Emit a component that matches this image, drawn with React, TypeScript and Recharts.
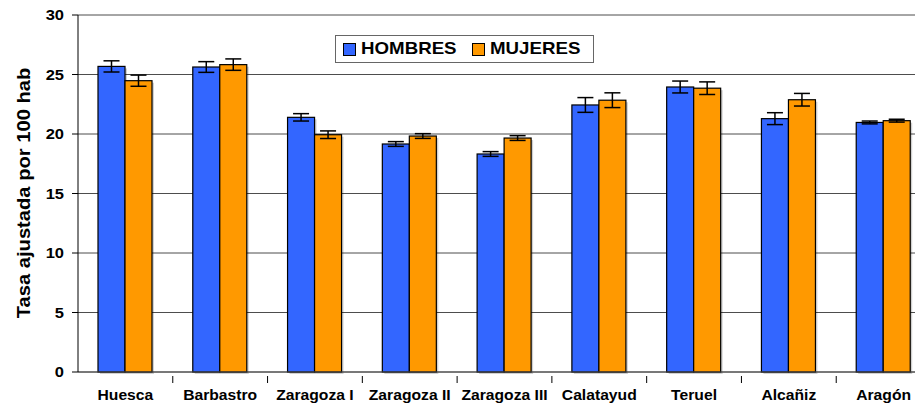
import { Bar, BarChart, CartesianGrid, ErrorBar, XAxis, YAxis } from "recharts";

const areas = ["Huesca", "Barbastro", "Zaragoza I", "Zaragoza II", "Zaragoza III", "Calatayud", "Teruel", "Alcañiz", "Aragón"];
const hombres = [25.68, 25.63, 21.4, 19.16, 18.32, 22.44, 23.95, 21.29, 20.97];
const hombresErr = [0.47, 0.45, 0.31, 0.2, 0.2, 0.62, 0.5, 0.5, 0.12];
const mujeres = [24.48, 25.83, 19.94, 19.83, 19.66, 22.84, 23.85, 22.88, 21.12];
const mujeresErr = [0.47, 0.48, 0.32, 0.2, 0.2, 0.62, 0.53, 0.53, 0.12];
const yTicks = [0, 5, 10, 15, 20, 25, 30];

const data = areas.map((name, i) => ({
  name,
  hombres: hombres[i],
  hombresErr: hombresErr[i],
  mujeres: mujeres[i],
  mujeresErr: mujeresErr[i],
}));

const BLUE = "#3366FF";
const ORANGE = "#FF9900";
const FONT = "'Liberation Sans', Arial, sans-serif";

const W = 935;
const H = 404;
const M = { top: 15, right: 4, left: 18, bottom: 0 };
const Y_W = 60;
const BAND = (W - M.left - M.right - Y_W) / areas.length;

function ShadowBar(props: any) {
  const { x, y, width, height, fill } = props;
  if (!height || height <= 0) return null;
  return (
    <g>
      <rect x={x + 2} y={y + 2} width={width} height={height} fill="#000" opacity={0.18} />
      <rect x={x} y={y} width={width} height={height} fill={fill} stroke="#000" strokeWidth={1.2} />
    </g>
  );
}

function XTick(props: any) {
  const { x, y, payload, index } = props;
  return (
    <g>
      {index > 0 && <line x1={x - BAND / 2} x2={x - BAND / 2} y1={y - 4} y2={y + 3} stroke="#000" />}
      <text
        transform={`translate(${x},${y + 20}) scale(1.12,1)`}
        textAnchor="middle"
        fontSize={14}
        fontWeight="bold"
        fontFamily={FONT}
        fill="#000"
      >
        {payload.value}
      </text>
    </g>
  );
}

function YTick(props: any) {
  const { x, y, payload } = props;
  return (
    <text
      transform={`translate(${x},${y + 5}) scale(1.1,1)`}
      textAnchor="end"
      fontSize={15}
      fontWeight="bold"
      fontFamily={FONT}
      fill="#000"
    >
      {payload.value}
    </text>
  );
}

function YTitle() {
  return (
    <text
      transform="translate(30,193) rotate(-90) scale(1.12,1)"
      textAnchor="middle"
      fontSize={18}
      fontWeight="bold"
      fontFamily={FONT}
      fill="#000"
    >
      Tasa ajustada por 100 hab
    </text>
  );
}

function LegendBox() {
  const item = (color: string, label: string, ml: number) => (
    <>
      <span
        style={{ width: 11, height: 11, background: color, border: "1px solid #000", marginLeft: ml, marginRight: 5, flex: "none" }}
      />
      <span style={{ display: "inline-block", transform: "scaleX(1.1)", transformOrigin: "left center", marginRight: 9 }}>
        {label}
      </span>
    </>
  );
  return (
    <div
      style={{
        position: "absolute",
        left: 335,
        top: 35,
        width: 257,
        height: 26,
        border: "1px solid #666",
        background: "#fff",
        display: "flex",
        alignItems: "center",
        fontFamily: FONT,
        fontWeight: "bold",
        fontSize: 17,
        color: "#000",
        boxSizing: "content-box",
        whiteSpace: "nowrap",
      }}
    >
      {item(BLUE, "HOMBRES", 7)}
      {item(ORANGE, "MUJERES", 15)}
    </div>
  );
}

export default function App() {
  return (
    <div style={{ position: "absolute", left: 0, top: 0, width: 915, height: 404, overflow: "hidden", background: "#fff" }}>
      <BarChart width={W} height={H} data={data} margin={M} barCategoryGap={20} barGap={0}>
        <CartesianGrid vertical={false} stroke="#4d4d4d" strokeWidth={1} />
        <XAxis dataKey="name" height={32} stroke="#4d4d4d" tickLine={false} tick={<XTick />} interval={0} />
        <YAxis
          domain={[0, 30]}
          ticks={yTicks}
          width={Y_W}
          stroke="#000"
          tickSize={6}
          tickMargin={8}
          tick={<YTick />}
          label={<YTitle />}
        />
        <Bar dataKey="hombres" name="HOMBRES" fill={BLUE} shape={<ShadowBar />} isAnimationActive={false}>
          <ErrorBar dataKey="hombresErr" width={8} stroke="#000" strokeWidth={1.5} />
        </Bar>
        <Bar dataKey="mujeres" name="MUJERES" fill={ORANGE} shape={<ShadowBar />} isAnimationActive={false}>
          <ErrorBar dataKey="mujeresErr" width={8} stroke="#000" strokeWidth={1.5} />
        </Bar>
      </BarChart>
      <LegendBox />
    </div>
  );
}
